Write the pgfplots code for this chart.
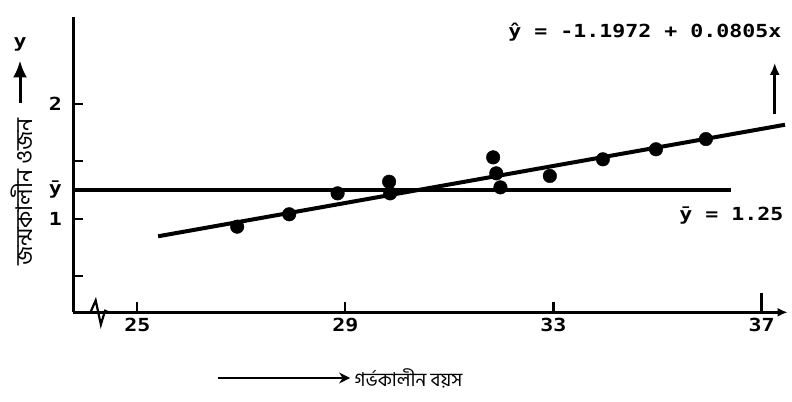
\documentclass[border=0pt]{standalone}
\usepackage{fontspec}
\usepackage{pgfplots}
\pgfplotsset{compat=1.18}
\usetikzlibrary{arrows.meta}
\setmainfont{DejaVu Sans}
\newfontfamily\numfont{DejaVu Sans Mono}[FakeStretch=1.2]
\newfontfamily\bnfont{Hind Siliguri}[Script=Bengali]
\newcommand\numsize{\numfont\bfseries\fontsize{18bp}{18bp}\selectfont}

\begin{document}
\begin{tikzpicture}
\useasboundingbox (0,0) rectangle (792bp,402bp);
\begin{axis}[
  at={(73.3bp,89.7bp)}, anchor=south west,
  scale only axis, width=714.3bp, height=295.6bp,
  xmin=23.77, xmax=37.50, ymin=0.1865, ymax=2.757,
  axis lines*=left,
  axis line style={line width=3.4bp, black},
  x axis line style={-{Latex[length=10bp,width=9bp]}},
  xtick={25,29,33}, extra x ticks={37},
  extra x tick style={major tick length=19bp},
  ytick={0.5,1,1.25,1.5,2}, yticklabels={,1,ȳ,,2},
  tick align=inside, major tick length=10bp,
  tick style={line width=2.2bp, black},
  tick label style={font=\numsize},
  xticklabel style={yshift=-2bp},
  yticklabel style={xshift=-8bp},
  /pgf/number format/assume math mode=true,
  clip=false,
]
% observations: gestational age vs birth weight
\addplot[only marks, mark=*, mark size=6.8bp, black] coordinates {
  (26.92,0.931) (27.92,1.039) (28.85,1.221) (29.84,1.322) (29.86,1.221)
  (31.84,1.534) (31.90,1.395) (31.98,1.273) (32.93,1.372) (33.95,1.517)
  (34.97,1.604) (35.93,1.693)
};
% fitted line  y = -1.1972 + 0.0805 x
\addplot[black, line width=4bp] coordinates {(25.40,0.8475) (37.45,1.8175)};
% mean line  y = 1.25
\addplot[black, line width=3.2bp] coordinates {(23.77,1.25) (36.42,1.25)};

% axis break on the x axis
\draw[black, line width=2.2bp] (axis cs:24.10,0.1865) -- (axis cs:24.20,0.29)
  -- (axis cs:24.30,0.08) -- (axis cs:24.38,0.20) -- (axis cs:24.45,0.1865);

% labels
\node[font=\numsize, anchor=base east] at (rel axis cs:0.9964,0.9313)
  {ŷ = -1.1972 + 0.0805x};
\draw[black, line width=2.6bp, -{Latex[length=12bp,width=10bp]}]
  (rel axis cs:0.982,0.671) -- (rel axis cs:0.982,0.844);
\node[font=\numsize, anchor=base east] at (rel axis cs:0.999,0.309) {ȳ = 1.25};

\node[font=\numsize] at (rel axis cs:-0.0746,0.9077) {y};
\draw[black, line width=3bp, -{Latex[length=17bp,width=14bp]}]
  (rel axis cs:-0.0746,0.708) -- (rel axis cs:-0.0746,0.852);
\node[rotate=90, font=\bnfont\fontsize{23bp}{23bp}\selectfont]
  at (rel axis cs:-0.0725,0.407) {জন্মকালীন ওজন};

\draw[black, line width=2.2bp, -{Stealth[length=11bp,width=11bp]}]
  (rel axis cs:0.2026,-0.2223) -- (rel axis cs:0.3875,-0.2223);
\node[anchor=west, font=\bnfont\fontsize{19bp}{19bp}\selectfont]
  at (rel axis cs:0.389,-0.2223) {গর্ভকালীন বয়স};
\end{axis}
\end{tikzpicture}
\end{document}
